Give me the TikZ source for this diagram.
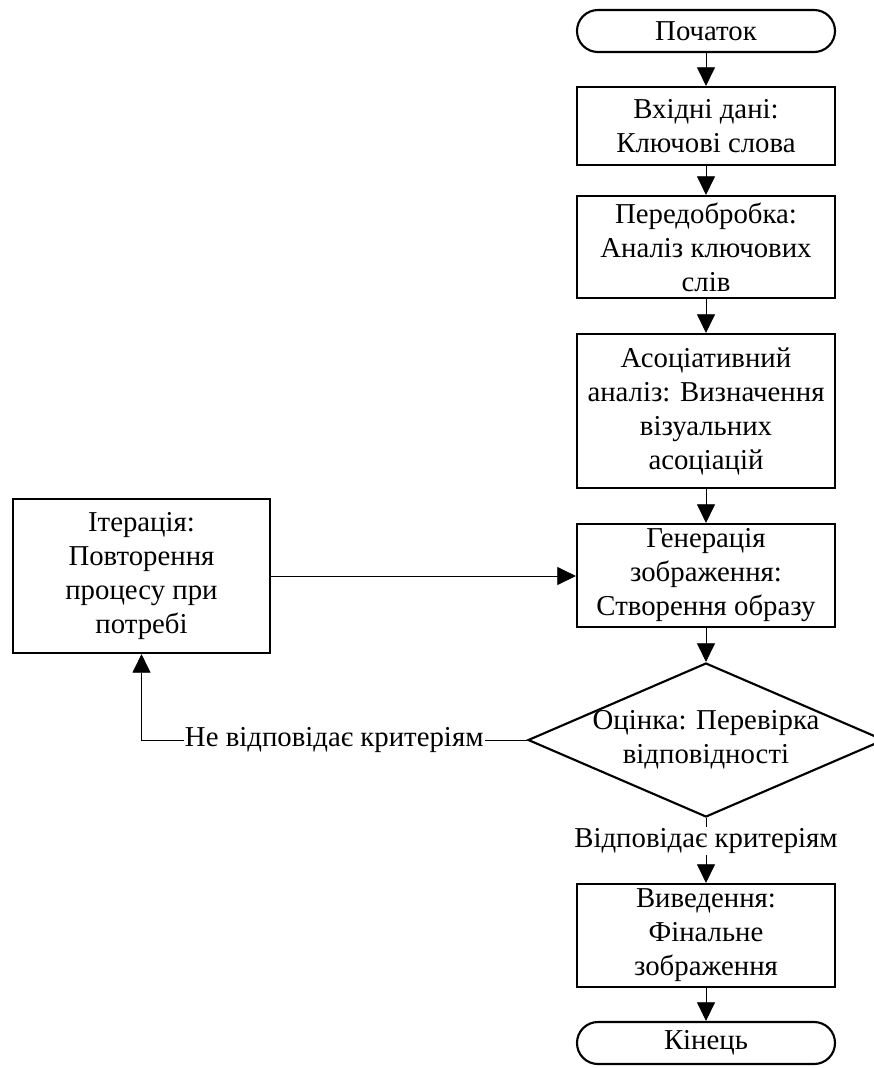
\documentclass[tikz,border=0pt]{standalone}
\usepackage{fontspec}
\setmainfont{Liberation Serif}
\usepackage{tikz}
\usetikzlibrary{calc,arrows.meta,shapes.geometric}

\begin{document}
\begin{tikzpicture}[
  x=0.75pt, y=-0.75pt,
  every node/.style={font=\fontsize{21.6}{25.5}\selectfont, align=center, inner sep=1pt},
  block/.style={rectangle, draw, line width=1.6pt, minimum width=193.5pt},
  term/.style={rectangle, draw, line width=1.6pt, rounded corners=15.7pt,
    minimum width=193.5pt, minimum height=31.5pt},
  check/.style={diamond, draw, line width=1.6pt, aspect=2.3, inner sep=-4pt,
    minimum width=267pt, minimum height=115.5pt},
  flow/.style={draw, line width=0.7pt, -{Triangle[length=14pt,width=13.5pt]}}
]
\useasboundingbox (0,0) rectangle (874,1068);

\node[term] (start) at (706,31) {Початок};
\node[block, minimum height=58.5pt] (input) at (706,126) {Вхідні дані:\\Ключові слова};
\node[block, minimum height=76.5pt] (prep) at (706,247) {Передобробка:\\Аналіз ключових\\слів};
\node[block, minimum height=115.5pt] (assoc) at (706,411) {Асоціативний\\аналіз: Визначення\\візуальних\\асоціацій};
\node[block, minimum height=77.25pt] (gen) at (706,575.5) {Генерація\\зображення:\\Створення образу};
\node[check] (eval) at (706,740) {Оцінка: Перевірка\\відповідності};
\node[block, minimum height=77.25pt] (output) at (706,935.5) {Виведення:\\Фінальне\\зображення};
\node[term] (end) at (706,1043) {Кінець};
\node[block, minimum width=192.75pt, minimum height=115.5pt] (iter) at (141.5,576) {Ітерація:\\Повторення\\процесу при\\потребі};

% main column
\draw[flow] (start) -- (input);
\draw[flow] (input) -- (prep);
\draw[flow] (prep) -- (assoc);
\draw[flow] (assoc) -- (gen);
\draw[flow] (gen) -- (eval);
\draw[flow] (eval) -- node[fill=white, pos=0.35] {Відповідає критеріям} (output);
\draw[flow] (output) -- (end);

% loop back
\draw[flow] (eval.west) -- node[fill=white] {Не відповідає критеріям} (eval.west -| iter.south) -- (iter.south);
\draw[flow] (iter.east) -- (iter.east -| gen.west);
\end{tikzpicture}
\end{document}
